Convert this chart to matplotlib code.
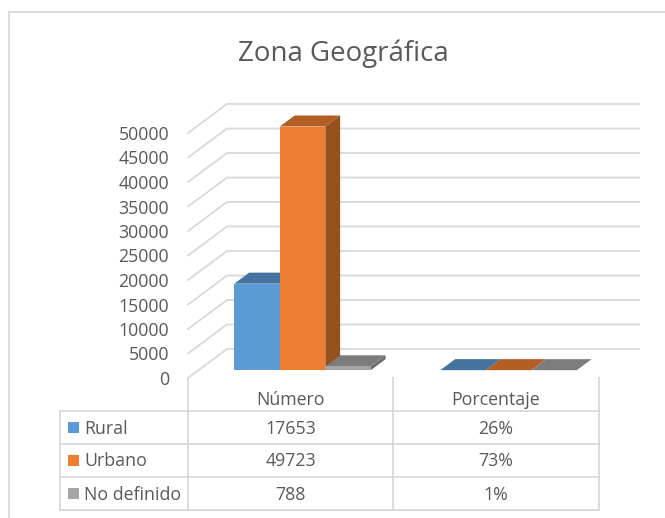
import matplotlib
matplotlib.use("Agg")
import matplotlib.pyplot as plt
from matplotlib.patches import Polygon

title="Zona Geográfica"
categories=["Número","Porcentaje"]
seriesNames=["Rural","Urbano","No definido"]
numero=[17653,49723,788]
porcentaje=[0.26,0.73,0.01]
porcentajeLabels=["26%","73%","1%"]
yTicks=[0,5000,10000,15000,20000,25000,30000,35000,40000,45000,50000]

W,H=665,518
faceColors=["#5B9BD5","#ED7D31","#A5A5A5"]
topColors=["#44739F","#B25E25","#7C7C7C"]
sideColors=["#3E6A92","#96501C","#6E6E6E"]
gridColor="#D9D9D9"
textColor="#595959"
fs=12.8

plt.rcParams["font.family"]=["Open Sans","DejaVu Sans"]

fig=plt.figure(figsize=(W/100,H/100),dpi=100)

#overlay in pixels, for frame and table
over=fig.add_axes([0,0,1,1])
over.set_xlim(0,W)
over.set_ylim(H,0)
over.axis("off")

#front plane of the 3d box
ax=fig.add_axes([188/W,1-378/H,412/W,245/H])
ax.set_xlim(0,2)
ax.set_ylim(0,50000)
ax.axis("off")

depthX=39/412*2
depthY=29/245*50000
barW=45.5/206

def skew(x,y,d):
    return (x+d*depthX,y+d*depthY)

for t in yTicks:
    p0=skew(0,t,0)
    p1=skew(0,t,1)
    p2=skew(2,t,1)
    ax.plot([p0[0],p1[0],p2[0]],[p0[1],p1[1],p2[1]],color=gridColor,lw=1.3,clip_on=False,zorder=1,solid_joinstyle="miter")
    ax.text(-19/206,t,str(t),ha="right",va="center_baseline",color=textColor,fontsize=fs)

d0=0.27
d1=0.65
groups=[numero,porcentaje]
for g in range(2):
    vals=groups[g]
    for i in range(3):
        x0=g+0.5+(i-1.5)*barW+0.005
        x1=x0+barW
        v=vals[i]
        z=2+i
        front=[skew(x0,0,d0),skew(x1,0,d0),skew(x1,v,d0),skew(x0,v,d0)]
        top=[skew(x0,v,d0),skew(x1,v,d0),skew(x1,v,d1),skew(x0,v,d1)]
        side=[skew(x1,0,d0),skew(x1,0,d1),skew(x1,v,d1),skew(x1,v,d0)]
        ax.add_patch(Polygon(side,closed=True,fc=sideColors[i],ec="none",clip_on=False,zorder=z))
        ax.add_patch(Polygon(top,closed=True,fc=topColors[i],ec="none",clip_on=False,zorder=z))
        ax.add_patch(Polygon(front,closed=True,fc=faceColors[i],ec="none",clip_on=False,zorder=z))

#frame, the right side is cut off in the reference
over.plot([9,W],[12,12],color=gridColor,lw=1.3)
over.plot([9,9],[12,H],color=gridColor,lw=1.3)

#data table
rowY=[411,444,477,510]
colX=[60,188,393,599]
for x in colX[1:]:
    over.plot([x,x],[378,510],color=gridColor,lw=1.3)
over.plot([60,60],[411,510],color=gridColor,lw=1.3)
for y in rowY:
    over.plot([60,599],[y,y],color=gridColor,lw=1.3)
for c in range(2):
    over.text((colX[c+1]+colX[c+2])/2,398,categories[c],ha="center",va="center_baseline",color=textColor,fontsize=fs)
for r in range(3):
    yc=(rowY[r]+rowY[r+1])/2
    over.add_patch(Polygon([(68,yc-5.5),(79,yc-5.5),(79,yc+5.5),(68,yc+5.5)],closed=True,fc=faceColors[r],ec="none"))
    over.text(84,yc-1,seriesNames[r],ha="left",va="center_baseline",color=textColor,fontsize=fs)
    over.text((colX[1]+colX[2])/2,yc-1,str(numero[r]),ha="center",va="center_baseline",color=textColor,fontsize=fs)
    over.text((colX[2]+colX[3])/2,yc-1,porcentajeLabels[r],ha="center",va="center_baseline",color=textColor,fontsize=fs)

over.text(343,54,title,ha="center",va="center",color=textColor,fontsize=19.9)

plt.savefig("out.png",dpi=100)
